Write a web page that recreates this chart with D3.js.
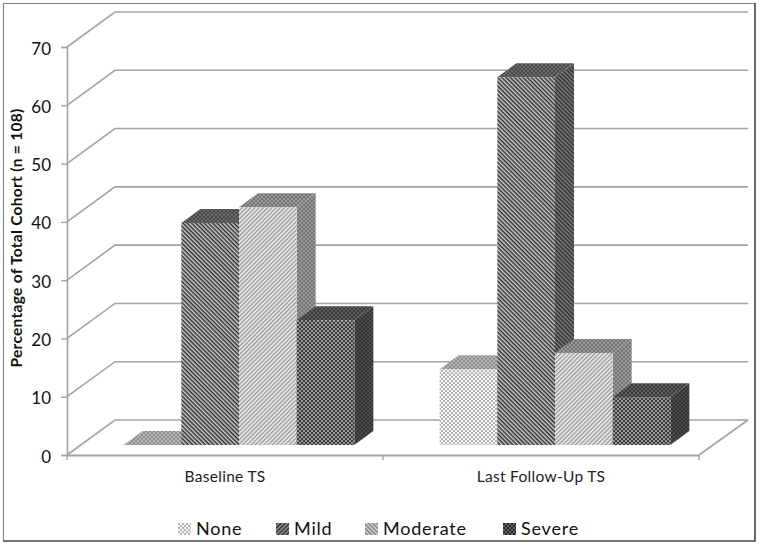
<!DOCTYPE html>
<html>
<head>
<meta charset="utf-8">
<script src="https://cdn.jsdelivr.net/npm/d3@7"></script>
<style>
  html, body { margin: 0; padding: 0; background: #fff; }
  svg { display: block; font-family: Lato, "Open Sans", sans-serif; }
</style>
</head>
<body>
<script>
var groups = ["Baseline TS", "Last Follow-Up TS"];
var severities = ["None", "Mild", "Moderate", "Severe"];
var baseline = [0, 38.1, 40.8, 21.4];
var followUp = [13, 63.1, 15.8, 8.2];
var yTicks = [0, 10, 20, 30, 40, 50, 60, 70];

var width = 759, height = 545;
var depth = {x: 48, y: 35};      // wall offset of the fake 3d box
var barDepth = {x: 19, y: 14};
var barShift = {x: 14, y: 10};   // bars stand a bit inside the floor
var gridColor = "#a3a3a3";

var svg = d3.select("body").append("svg").attr("width", width).attr("height", height);
var defs = svg.append("defs");

// the reference is a soft jpeg, so take the edge off the patterns
defs.append("filter").attr("id", "soft")
    .attr("x", "-5%").attr("y", "-5%").attr("width", "110%").attr("height", "110%")
    .append("feGaussianBlur").attr("stdDeviation", 0.3);

// diagonal hatch, angle decides the direction
function hatch(id, bg, fg, angle) {
    var p = defs.append("pattern").attr("id", id)
        .attr("width", 3).attr("height", 3)
        .attr("patternUnits", "userSpaceOnUse")
        .attr("patternTransform", "rotate(" + angle + ")");
    p.append("rect").attr("width", 3).attr("height", 3).attr("fill", bg);
    p.append("rect").attr("width", 3).attr("height", 1.5).attr("fill", fg);
}
function dots(id, bg, fg) {
    var p = defs.append("pattern").attr("id", id)
        .attr("width", 4).attr("height", 4)
        .attr("patternUnits", "userSpaceOnUse");
    p.append("rect").attr("width", 4).attr("height", 4).attr("fill", bg);
    p.append("rect").attr("width", 2).attr("height", 2).attr("fill", fg);
    p.append("rect").attr("x", 2).attr("y", 2).attr("width", 2).attr("height", 2).attr("fill", fg);
}

dots("noneFront", "#f6f6f6", "#b4b4b4");
dots("noneTop", "#b8b8b8", "#8c8c8c");
dots("noneSide", "#8c8c8c", "#666");
hatch("mildFront", "#d0d0d0", "#2c2c2c", 45);
dots("mildTop", "#6a6a6a", "#4a4a4a");
hatch("mildSide", "#808080", "#2c2c2c", 45);
hatch("modFront", "#f4f4f4", "#989898", -45);
dots("modTop", "#9c9c9c", "#727272");
dots("modSide", "#969696", "#767676");
dots("sevFront", "#969696", "#3c3c3c");
dots("sevTop", "#5c5c5c", "#3a3a3a");
dots("sevSide", "#4e4e4e", "#303030");
hatch("mildKey", "#999", "#2a2a2a", -45);
hatch("modKey", "#ddd", "#777", 45);
dots("sevKey", "#666", "#222");

var faces = [
    {front: "noneFront", top: "noneTop", side: "noneSide", key: "noneFront"},
    {front: "mildFront", top: "mildTop", side: "mildSide", key: "mildKey"},
    {front: "modFront", top: "modTop", side: "modSide", key: "modKey"},
    {front: "sevFront", top: "sevTop", side: "sevSide", key: "sevKey"}
];

var y = d3.scaleLinear().domain([0, 70]).range([455, 47]);
var x0 = d3.scaleBand().domain(groups).range([67, 699]);
var x1 = d3.scaleBand().domain(severities)
    .range([x0.bandwidth() * 0.135 + barShift.x, x0.bandwidth() * 0.865 + barShift.x]);

// picture frame
svg.append("rect").attr("x", 3.5).attr("y", 3.5).attr("width", 751.5).attr("height", 537.5)
    .attr("fill", "none").attr("stroke", "#8a8a8a").attr("stroke-width", 1.2);
svg.append("path").attr("d", "M755,3V541H3").attr("fill", "none").attr("stroke", "#333").attr("stroke-width", 1.2);

// walls and floor
var wall = svg.append("g").attr("fill", "none").attr("stroke", gridColor);
wall.selectAll("path.grid").data(yTicks).enter().append("path")
    .attr("class", "grid")
    .attr("stroke-width", 1.6)
    .attr("d", function(d) {
        return "M67," + y(d) + "L" + (67 + depth.x) + "," + (y(d) - depth.y) + "H748";
    });
wall.append("path").attr("stroke-width", 1.6)
    .attr("d", "M699," + y(0) + "L748," + (y(0) - depth.y));

// axes, d3 puts its own font-family on the group so clear it
var yAxis = d3.axisLeft(y).tickValues(yTicks).tickSize(6).tickPadding(10);
var gy = svg.append("g").attr("transform", "translate(67,0)").call(yAxis).attr("font-family", null);
gy.select(".domain").attr("stroke", gridColor).attr("stroke-width", 1.6);
gy.selectAll(".tick line").attr("stroke", gridColor).attr("stroke-width", 1.4);
gy.selectAll("text").attr("font-size", 17).attr("fill", "#111")
    .attr("dy", "0.42em");

var xAxis = d3.axisBottom(x0).tickSize(0).tickPadding(16);
var gx = svg.append("g").attr("transform", "translate(0,455)").call(xAxis).attr("font-family", null);
gx.select(".domain").attr("stroke", gridColor).attr("stroke-width", 2);
gx.selectAll("text").attr("font-size", 15.5).attr("letter-spacing", 0.3).attr("fill", "#222");
gx.selectAll("line.sep").data(x0.range().concat(x0(groups[1]))).enter().append("line")
    .attr("class", "sep")
    .attr("x1", function(d) { return d; }).attr("x2", function(d) { return d; })
    .attr("y1", 0).attr("y2", 5)
    .attr("stroke", gridColor).attr("stroke-width", 1.4);

svg.append("text")
    .attr("transform", "translate(22,238) rotate(-90)")
    .attr("text-anchor", "middle")
    .attr("font-size", 15.5).attr("letter-spacing", 0.3).attr("font-weight", 700).attr("fill", "#111")
    .text("Percentage of Total Cohort (n = 108)");

// bars, left to right so each one covers the side of the one before
var seriesValues = [baseline, followUp];
var barGroups = svg.selectAll("g.cluster").data(groups).enter().append("g")
    .attr("class", "cluster")
    .attr("filter", "url(#soft)")
    .attr("transform", function(d) { return "translate(" + x0(d) + ",0)"; });

var bars = barGroups.selectAll("g.bar")
    .data(function(d, i) {
        return seriesValues[i].map(function(v, j) { return {value: v, name: severities[j], face: faces[j]}; });
    })
    .enter().append("g").attr("class", "bar");

function barTop(d) { return y(d.value) - barShift.y; }
var base = y(0) - barShift.y;

bars.append("path")
    .attr("fill", function(d) { return "url(#" + d.face.side + ")"; })
    .attr("d", function(d) {
        var r = x1(d.name) + x1.bandwidth();
        return "M" + r + "," + base + "V" + barTop(d) +
            "l" + barDepth.x + "," + (-barDepth.y) + "V" + (base - barDepth.y) + "Z";
    });
bars.append("path")
    .attr("fill", function(d) { return "url(#" + d.face.top + ")"; })
    .attr("d", function(d) {
        return "M" + x1(d.name) + "," + barTop(d) +
            "l" + barDepth.x + "," + (-barDepth.y) + "h" + x1.bandwidth() +
            "l" + (-barDepth.x) + "," + barDepth.y + "Z";
    });
bars.append("rect")
    .attr("fill", function(d) { return "url(#" + d.face.front + ")"; })
    .attr("x", function(d) { return x1(d.name); })
    .attr("y", barTop)
    .attr("width", x1.bandwidth())
    .attr("height", function(d) { return base - barTop(d); });

// legend
var legendX = [178, 276, 365, 503];
var legend = svg.selectAll("g.key").data(severities).enter().append("g")
    .attr("class", "key")
    .attr("transform", function(d, i) { return "translate(" + legendX[i] + ",523)"; });
legend.append("rect").attr("width", 13).attr("height", 12)
    .attr("filter", "url(#soft)")
    .attr("fill", function(d, i) { return "url(#" + faces[i].key + ")"; });
legend.append("text").attr("x", 18).attr("y", 11.5)
    .attr("font-size", 18).attr("letter-spacing", 0.8).attr("fill", "#111")
    .text(function(d) { return d; });
</script>
</body>
</html>
